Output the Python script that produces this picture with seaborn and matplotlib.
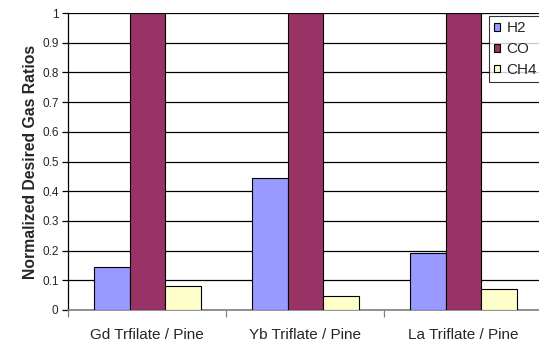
import numpy as np
import pandas as pd
import matplotlib
matplotlib.use("Agg")
import matplotlib.pyplot as plt
import seaborn as sns

# Data
categories = ["Gd Trfilate / Pine", "Yb Triflate / Pine", "La Triflate / Pine"]
gases = ["H2", "CO", "CH4"]
h2_values = [0.145, 0.444, 0.192]
co_values = [1.0, 1.0, 1.0]
ch4_values = [0.082, 0.047, 0.070]
y_ticks = [0, 0.1, 0.2, 0.3, 0.4, 0.5, 0.6, 0.7, 0.8, 0.9, 1]
y_tick_labels = ["0", "0.1", "0.2", "0.3", "0.4", "0.5", "0.6", "0.7", "0.8", "0.9", "1"]

df = pd.DataFrame({
    "Sample": categories * 3,
    "Gas": [g for g in gases for _ in categories],
    "Ratio": h2_values + co_values + ch4_values,
})

palette = {"H2": "#9999FF", "CO": "#993366", "CH4": "#FFFFCC"}

sns.set_style("white")
plt.rcParams["font.family"] = ["Liberation Sans", "DejaVu Sans"]

W, H = 539, 341
fig = plt.figure(figsize=(W / 100, H / 100), dpi=100)
fig.patch.set_facecolor("white")

left, right, top, bottom = 68.3, 542.3, 13.0, 310.0
ax = fig.add_axes([left / W, 1 - bottom / H, (right - left) / W, (bottom - top) / H])

sns.barplot(data=df, x="Sample", y="Ratio", hue="Gas", hue_order=gases,
            order=categories, palette=palette, width=0.674, saturation=1,
            edgecolor="black", linewidth=0.8, ax=ax, legend=False, zorder=3)

ax.set_xlim(-0.5, 2.5)
ax.set_ylim(0, 1)

# horizontal gridlines
ax.set_yticks(y_ticks)
ax.set_yticklabels(y_tick_labels)
ax.yaxis.grid(True, color="black", linewidth=0.9, zorder=0)
ax.set_axisbelow(True)

# category separators as major ticks, labels centered as minor ticks
ax.set_xticks([-0.5, 0.5, 1.5, 2.5])
ax.set_xticklabels([])
ax.set_xticks([0, 1, 2], minor=True)
ax.set_xticklabels(categories, minor=True)
ax.tick_params(axis="x", which="major", direction="out", length=5, width=0.9,
               color="#808080", bottom=True)
ax.tick_params(axis="x", which="minor", length=0, pad=13, labelsize=11)
ax.tick_params(axis="y", direction="out", length=4, width=0.9, color="black",
               left=True, labelsize=8.5, pad=3)

for side in ["top", "right"]:
    ax.spines[side].set_visible(False)
ax.spines["left"].set_color("black")
ax.spines["left"].set_linewidth(0.9)
ax.spines["bottom"].set_color("#808080")
ax.spines["bottom"].set_linewidth(1.2)

ax.set_xlabel("")
ax.set_ylabel("Normalized Desired Gas Ratios", fontsize=11.3, fontweight="bold",
              labelpad=3)

# legend box at the upper right
handles = [plt.Rectangle((0, 0), 1, 1, facecolor=palette[g], edgecolor="black",
                         linewidth=0.8) for g in gases]
leg = fig.legend(handles, gases, loc="upper left",
                 bbox_to_anchor=(489.0 / W, 1 - 16 / H),
                 bbox_transform=fig.transFigure, borderaxespad=0,
                 fontsize=11, frameon=True, fancybox=False,
                 handlelength=0.4, handleheight=0.4, handletextpad=0.4,
                 labelspacing=0.45, borderpad=0.35)
leg.get_frame().set_edgecolor("black")
leg.get_frame().set_linewidth(0.8)
leg.get_frame().set_facecolor("white")

fig.savefig("out.png", dpi=100)
